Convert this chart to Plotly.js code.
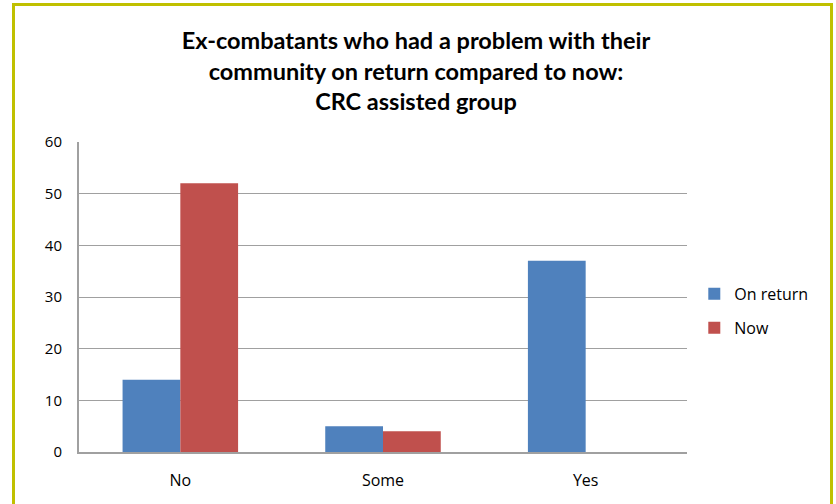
<!DOCTYPE html>
<html>
<head>
<meta charset="utf-8">
<script src="https://cdn.plot.ly/plotly-3.0.1.min.js"></script>
<style>
html,body{margin:0;padding:0;background:#fff;}
#wrap{position:absolute;left:0;top:0;width:836px;height:504px;overflow:hidden;}
#frame{position:absolute;left:12px;top:3px;width:821px;height:520px;border:3px solid #c0c000;box-sizing:border-box;pointer-events:none;}
#chart{position:absolute;left:0;top:0;width:836px;height:504px;}
</style>
</head>
<body>
<div id="wrap">
<div id="chart"></div>
<div id="frame"></div>
</div>
<script>
const categories = ["No", "Some", "Yes"];
const onReturn = [14, 5, 37];
const now = [52, 4, 0];
const seriesNames = ["On return", "Now"];
const yTicks = [0, 10, 20, 30, 40, 50, 60];

const titleFont = "Lato, 'Open Sans', sans-serif";
const font = "'Open Sans', 'Noto Sans', sans-serif";

const data = [
  {type: "bar", name: seriesNames[0], legendgroup: "a", x: categories, y: onReturn, marker: {color: "#4f81bd"}},
  {type: "bar", name: seriesNames[1], legendgroup: "b", x: categories, y: now, marker: {color: "#c0504d"}}
];

const layout = {
  width: 836, height: 504,
  margin: {l: 79, r: 149, t: 142, b: 52},
  paper_bgcolor: "#fff", plot_bgcolor: "#fff",
  font: {family: font, size: 15, color: "#000"},
  title: {
    text: "<b>Ex-combatants who had a problem with their<br>community on return compared to now:<br>CRC assisted group</b>",
    font: {family: titleFont, size: 23.5, color: "#000"},
    xref: "container", x: 416 / 836, xanchor: "center",
    yref: "container", y: 1 - 49 / 504, yanchor: "middle"
  },
  barmode: "group",
  bargap: 0.43,
  bargroupgap: 0,
  showlegend: true,
  legend: {
    x: 1.012, xanchor: "left", y: 0.455, yanchor: "middle",
    font: {family: font, size: 16, color: "#000"},
    traceorder: "grouped", tracegroupgap: 10,
    itemwidth: 30, bgcolor: "rgba(0,0,0,0)"
  },
  xaxis: {
    type: "category",
    showline: true, linecolor: "#a0a0a0", linewidth: 2,
    showgrid: false, ticks: "", ticklabelstandoff: 13,
    tickfont: {family: font, size: 16, color: "#000"}
  },
  yaxis: {
    range: [0, 60], tickvals: yTicks, ticktext: yTicks.map(String),
    showline: true, linecolor: "#a0a0a0", linewidth: 2,
    showgrid: true, gridcolor: "#a0a0a0", gridwidth: 1,
    zeroline: false, ticks: "", ticklabelstandoff: 12,
    tickfont: {family: font, size: 15, color: "#000"}
  }
};

Plotly.newPlot("chart", data, layout, {displayModeBar: false, staticPlot: true});
</script>
</body>
</html>
